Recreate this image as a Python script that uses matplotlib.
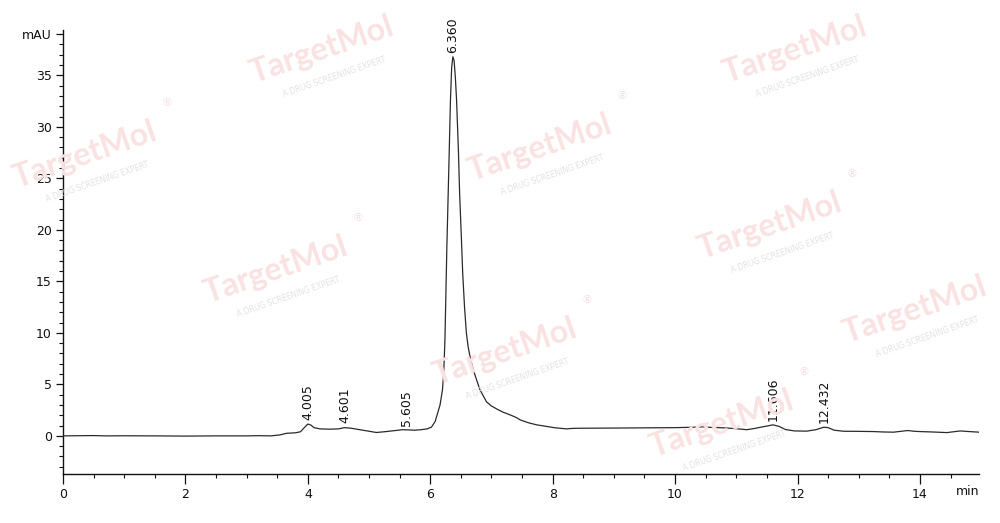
import matplotlib
matplotlib.use("Agg")
import matplotlib.pyplot as plt
from matplotlib.ticker import MultipleLocator, FixedLocator

# ---- data ----
time_min = [0.0, 0.3, 0.5, 0.7, 1.0, 1.5, 2.0, 2.5, 3.0, 3.2, 3.4, 3.55, 3.65, 3.8, 3.88,
            3.95, 4.0, 4.05, 4.1, 4.2, 4.35, 4.5, 4.6, 4.7, 4.85, 5.0, 5.12, 5.25, 5.4,
            5.55, 5.65, 5.75, 5.85, 5.95, 6.02, 6.08, 6.12, 6.16, 6.20, 6.22, 6.24, 6.27,
            6.29, 6.31, 6.33, 6.35, 6.37, 6.39, 6.41, 6.43, 6.46, 6.48, 6.51, 6.53, 6.56,
            6.59, 6.62, 6.66, 6.72, 6.81, 6.92, 7.0, 7.09, 7.19, 7.30, 7.4, 7.47, 7.6,
            7.74, 7.9, 8.01, 8.12, 8.23, 8.3, 8.4, 9.0, 9.5, 10.0, 10.3, 10.45, 10.6,
            10.8, 11.0, 11.17, 11.3, 11.45, 11.6, 11.7, 11.8, 11.95, 12.15, 12.3, 12.43,
            12.5, 12.6, 12.75, 13.0, 13.24, 13.4, 13.57, 13.7, 13.8, 13.9, 14.0, 14.2,
            14.44, 14.55, 14.66, 14.8, 14.97]
signal_mau = [0.0, 0.02, 0.03, 0.0, 0.01, 0.0, -0.02, 0.0, 0.0, 0.02, 0.0, 0.1, 0.25, 0.3, 0.4,
              0.85, 1.15, 1.05, 0.8, 0.68, 0.65, 0.68, 0.8, 0.75, 0.6, 0.45, 0.33, 0.4, 0.5,
              0.6, 0.58, 0.55, 0.6, 0.68, 0.85, 1.4, 2.2, 3.0, 4.5, 6.2, 9.3, 18.0,
              22.8, 27.6, 32.6, 35.8, 36.8, 36.4, 34.8, 32.6, 27.7, 23.5, 19.0, 15.8, 12.5,
              10.0, 8.6, 7.4, 6.1, 4.5, 3.3, 2.9, 2.6, 2.3, 2.05, 1.8, 1.55, 1.28,
              1.07, 0.92, 0.81, 0.74, 0.68, 0.72, 0.74, 0.76, 0.78, 0.8, 0.84, 0.88, 0.82,
              0.78, 0.7, 0.6, 0.72, 0.9, 1.07, 0.92, 0.62, 0.48, 0.46, 0.6, 0.84,
              0.8, 0.55, 0.45, 0.44, 0.42, 0.38, 0.36, 0.45, 0.52, 0.45, 0.42, 0.38,
              0.32, 0.4, 0.48, 0.42, 0.36]

peak_rt = [4.005, 4.601, 5.605, 6.360, 11.606, 12.432]
peak_height = [1.15, 0.8, 0.6, 36.8, 1.07, 0.84]
peak_labels = ["4.005", "4.601", "5.605", "6.360", "11.606", "12.432"]

y_major = [0, 5, 10, 15, 20, 25, 30, 35, 39]
y_major_labels = ["0", "5", "10", "15", "20", "25", "30", "35", "mAU"]
x_major = [0, 2, 4, 6, 8, 10, 12, 14]
x_major_labels = ["0", "2", "4", "6", "8", "10", "12", "14"]

# watermark centres in figure pixels (those fully inside the picture)
wm_centres = [(322, 50), (795, 50), (85, 155), (540, 148), (770, 226),
              (276, 270), (505, 352), (915, 310), (722, 424)]

plt.rcParams['font.family'] = ['DejaVu Sans']
fig = plt.figure(figsize=(10, 5.23), dpi=100)
W, H = 1000, 523
ax = fig.add_axes([63 / W, 1 - 474 / H, (979.3 - 63) / W, (474 - 30) / H])

# watermarks
for (cx, cy) in wm_centres:
    fx, fy = cx / W, 1 - cy / H
    fig.text(fx, fy, "TargetMol", fontsize=23, fontweight='bold', family=['Lato', 'DejaVu Sans'],
             color='#fae2e2', rotation=19, rotation_mode='anchor', ha='center',
             va='center', zorder=0)
    fig.text(fx + 12 / W, fy - 27 / H, "A DRUG SCREENING EXPERT", fontsize=5.5,
             color='#e2e2e2', rotation=19, rotation_mode='anchor', ha='center',
             va='center', zorder=0)
    if cy - 52 > 10 and cx + 82 < W - 10:
        fig.text(fx + 82 / W, fy + 52 / H, "\u00ae", fontsize=8, color='#f8dede',
                 ha='center', va='center', zorder=0)

ax.patch.set_alpha(0)
ax.plot(time_min, signal_mau, color='#2a2a2a', lw=0.9, zorder=3)

for rt, h, lab in zip(peak_rt, peak_height, peak_labels):
    ax.annotate(lab, xy=(rt, h), xytext=(0, 3), textcoords='offset points',
                rotation=90, ha='center', va='bottom', fontsize=9, color='#111111')

ax.set_xlim(0, 14.97)
ax.set_ylim(-3.7, 39.4)
ax.spines['top'].set_visible(False)
ax.spines['right'].set_visible(False)
for s in ('left', 'bottom'):
    ax.spines[s].set_color('#111111')
    ax.spines[s].set_linewidth(1.0)

ax.yaxis.set_major_locator(FixedLocator(y_major))
ax.set_yticklabels(y_major_labels)
ax.yaxis.set_minor_locator(MultipleLocator(1))
ax.xaxis.set_major_locator(FixedLocator(x_major))
ax.set_xticklabels(x_major_labels)
ax.xaxis.set_minor_locator(MultipleLocator(0.5))

ax.tick_params(axis='both', which='major', direction='out', length=5, width=0.9,
               labelsize=9, colors='#111111')
ax.tick_params(axis='both', which='minor', direction='out', length=3, width=0.8,
               colors='#111111')
ax.tick_params(axis='x', which='major', length=7, pad=3)
ax.tick_params(axis='y', which='major', pad=3)

ax.text(1.0, -0.024, "min", transform=ax.transAxes, ha='right', va='top',
        fontsize=9, color='#111111')

fig.savefig("out.png", dpi=100)
